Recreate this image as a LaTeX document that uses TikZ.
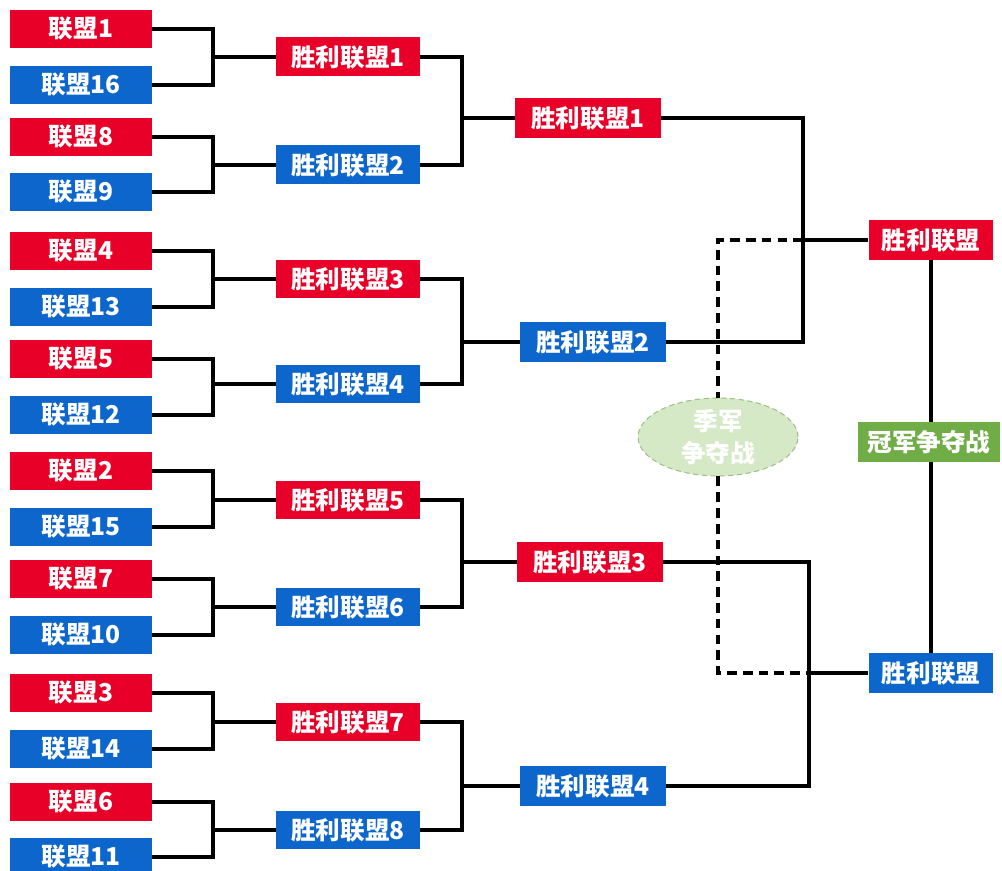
\documentclass[tikz,border=0pt]{standalone}
\usepackage{fontspec}
\setmainfont{Noto Sans CJK SC}
\usetikzlibrary{shapes.geometric}
\definecolor{bred}{RGB}{232,0,40}
\definecolor{bblue}{RGB}{12,102,204}
\definecolor{bgreen}{RGB}{112,173,71}
\definecolor{egreen}{RGB}{214,233,198}
\definecolor{eborder}{RGB}{160,190,140}
\begin{document}
\begin{tikzpicture}[x=0.02cm,y=-0.02cm,
  team/.style={inner sep=0pt, text=white, font=\bfseries\fontsize{14}{16}\selectfont},
  redbox/.style={team, fill=bred},
  bluebox/.style={team, fill=bblue},
  greenbox/.style={team, fill=bgreen},
  c1/.style={minimum width=2.84cm, minimum height=0.76cm},
  c2/.style={minimum width=2.88cm, minimum height=0.78cm},
  c3/.style={minimum width=2.92cm, minimum height=0.80cm},
  c4/.style={minimum width=2.50cm, minimum height=0.80cm},
  link/.style={line width=1.8pt, black},
  dlink/.style={line width=1.8pt, black, dash pattern=on 5.5pt off 3.5pt}]
\useasboundingbox (0,0) rectangle (1002,871);
% first round
\node[redbox,c1]  (L1)  at (81,29)  {联盟1};
\node[bluebox,c1] (L16) at (81,85)  {联盟16};
\node[redbox,c1]  (L8)  at (81,137) {联盟8};
\node[bluebox,c1] (L9)  at (81,192) {联盟9};
\node[redbox,c1]  (L4)  at (81,251) {联盟4};
\node[bluebox,c1] (L13) at (81,307) {联盟13};
\node[redbox,c1]  (L5)  at (81,359) {联盟5};
\node[bluebox,c1] (L12) at (81,415) {联盟12};
\node[redbox,c1]  (L2)  at (81,471) {联盟2};
\node[bluebox,c1] (L15) at (81,527) {联盟15};
\node[redbox,c1]  (L7)  at (81,579) {联盟7};
\node[bluebox,c1] (L10) at (81,635) {联盟10};
\node[redbox,c1]  (L3)  at (81,693) {联盟3};
\node[bluebox,c1] (L14) at (81,749) {联盟14};
\node[redbox,c1]  (L6)  at (81,802) {联盟6};
\node[bluebox,c1] (L11) at (81,857) {联盟11};
% second round
\node[redbox,c2]  (W1) at (348,57)  {胜利联盟1};
\node[bluebox,c2] (W2) at (348,165) {胜利联盟2};
\node[redbox,c2]  (W3) at (348,279) {胜利联盟3};
\node[bluebox,c2] (W4) at (348,384) {胜利联盟4};
\node[redbox,c2]  (W5) at (348,500) {胜利联盟5};
\node[bluebox,c2] (W6) at (348,607) {胜利联盟6};
\node[redbox,c2]  (W7) at (348,722) {胜利联盟7};
\node[bluebox,c2] (W8) at (348,830) {胜利联盟8};
% third round
\node[redbox,c3]  (S1) at (588,118) {胜利联盟1};
\node[bluebox,c3] (S2) at (593,342) {胜利联盟2};
\node[redbox,c3]  (S3) at (590,562) {胜利联盟3};
\node[bluebox,c3] (S4) at (593,786) {胜利联盟4};
% finals
\node[redbox,c4]  (F1) at (931,240) {胜利联盟};
\node[bluebox,c4] (F2) at (931,673) {胜利联盟};
\node[greenbox,minimum width=2.84cm,minimum height=0.80cm] (G) at (929,442) {冠军争夺战};
\node[ellipse, fill=egreen, draw=eborder, densely dashed, line width=0.6pt,
      minimum width=3.2cm, minimum height=1.36cm, inner sep=0pt, align=center,
      text=white, font=\bfseries\fontsize{14}{18}\selectfont] (E) at (718,437) {季军\\争夺战};
% bracket x positions
\coordinate (xa) at (213,0);
\coordinate (xb) at (462,0);
\coordinate (xc) at (803,0);
\coordinate (xd) at (809,0);
% first brackets
\foreach \a/\b/\w in {L1/L16/W1, L8/L9/W2, L4/L13/W3, L5/L12/W4, L2/L15/W5, L7/L10/W6, L3/L14/W7, L6/L11/W8}{
  \draw[link] (\a.east) -| (\w.west -| xa) |- (\b.east);
  \draw[link] (\w.west -| xa) -- (\w.west);
}
% second brackets
\foreach \a/\b/\w in {W1/W2/S1, W3/W4/S2, W5/W6/S3, W7/W8/S4}{
  \draw[link] (\a.east) -| (\w.west -| xb) |- (\b.east);
  \draw[link] (\w.west -| xb) -- (\w.west);
}
% semifinal brackets
\coordinate (jt) at (F1.west -| xc);
\coordinate (jb) at (F2.west -| xd);
\draw[link] (S1.east) -| (jt) |- (S2.east);
\draw[link] (jt) -- (F1.west);
\draw[link] (S3.east) -| (jb) |- (S4.east);
\draw[link] (jb) -- (F2.west);
% final
\draw[link] (F1.south) -- (F1.south |- G.north);
\draw[link] (F1.south |- G.south) -- (F2.north);
% third place (dashed)
\draw[dlink] (jt) -- (F1.west -| E.north) -- (E.north);
\draw[dlink] (E.south) -- (F2.west -| E.south) -- (jb);
\end{tikzpicture}
\end{document}
